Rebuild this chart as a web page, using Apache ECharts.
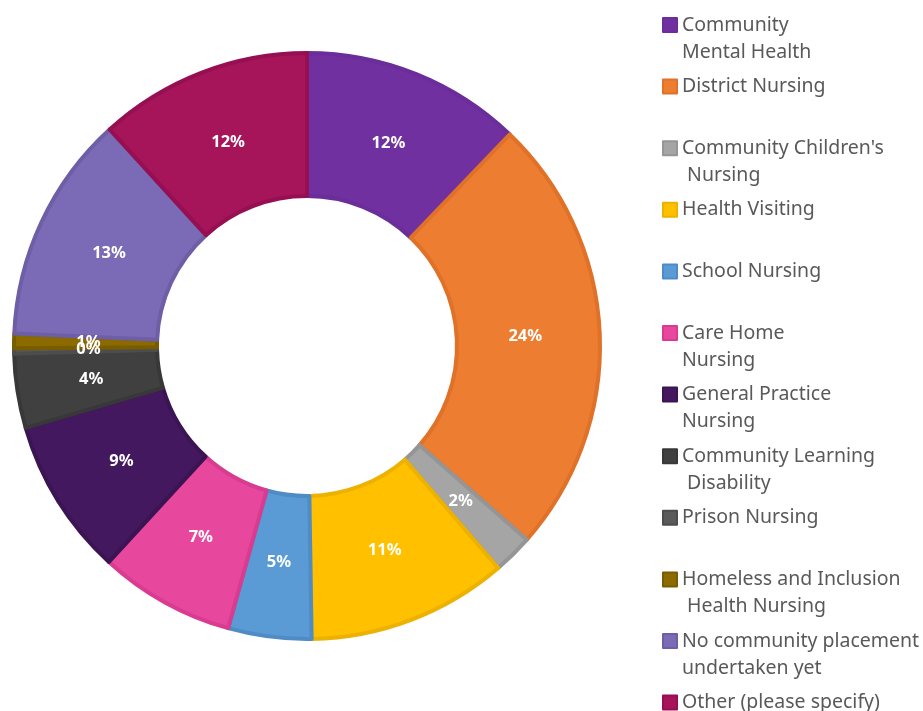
<!DOCTYPE html>
<html>
<head>
<meta charset="utf-8">
<script src="https://cdn.jsdelivr.net/npm/echarts@6/dist/echarts.min.js"></script>
<style>
  html, body { margin: 0; padding: 0; background: #fff; }
  #chart { width: 923px; height: 711px; }
</style>
</head>
<body>
<div id="chart"></div>
<script>
// categories and values (share of students, %)
const categories = [
  'Community Mental Health',
  'District Nursing',
  "Community Children's Nursing",
  'Health Visiting',
  'School Nursing',
  'Care Home Nursing',
  'General Practice Nursing',
  'Community Learning Disability',
  'Prison Nursing',
  'Homeless and Inclusion Health Nursing',
  'No community placement undertaken yet',
  'Other (please specify)',
];
const values = [12.2, 24.4, 2.2, 11.1, 4.6, 7.5, 8.7, 4.1, 0.3, 0.8, 12.6, 11.8];
// legend text as wrapped in the original
const legendLabels = [
  'Community\nMental Health',
  'District Nursing',
  "Community Children's\n Nursing",
  'Health Visiting',
  'School Nursing',
  'Care Home\nNursing',
  'General Practice\nNursing',
  'Community Learning\n Disability',
  'Prison Nursing',
  'Homeless and Inclusion\n Health Nursing',
  'No community placement\nundertaken yet',
  'Other (please specify)',
];

const fills = ['#7030A0', '#ED7D31', '#A5A5A5', '#FFC000', '#5B9BD5', '#E8479E',
  '#44185E', '#404040', '#5A5A5A', '#8B6A00', '#7B6AB5', '#A6145A'];
const borders = ['#6A2D99', '#E07128', '#959595', '#EDB100', '#4F8CC5', '#D83B8F',
  '#3B1452', '#383838', '#4D4D4D', '#7A5C00', '#6E5EA6', '#960F52'];

const chart = echarts.init(document.getElementById('chart'));

const lineH = 27;
// one legend per item so every icon sits on its first text line
const legends = categories.map((name, i) => {
  const lines = legendLabels[i].split('\n').length;
  const iconCenter = 25 + i * 61.6;
  // two-line labels get an empty line in front so the centred block puts line 1 on the icon
  const text = lines > 1 ? ' \n' + legendLabels[i] : legendLabels[i];
  const offset = lines > 1 ? 13.5 + lineH * (lines - 1) : 13.5;
  return {
    data: [name],
    orient: 'vertical',
    left: 662,
    top: iconCenter - offset,
    padding: 0,
    itemWidth: 14,
    itemHeight: 14,
    itemGap: 0,
    icon: 'rect',
    selectedMode: false,
    formatter: () => text,
    textStyle: {
      color: '#595959',
      fontFamily: 'Noto Sans',
      fontSize: 19.5,
      lineHeight: lineH,
      backgroundColor: 'transparent',
    },
  };
});

const pieData = categories.map((name, i) => ({
  name,
  value: values[i],
  itemStyle: {
    color: fills[i],
    borderColor: borders[i],
    borderWidth: 4,
  },
}));

const option = {
  animation: false,
  legend: legends,
  series: [
    {
      type: 'pie',
      center: [307, 346],
      radius: [150, 293],
      startAngle: 90,
      clockwise: true,
      avoidLabelOverlap: false,
      data: pieData,
      label: { show: false },
      labelLine: { show: false },
      emphasis: { disabled: true },
    },
    // same data again, invisible, only to put the percentage labels a bit nearer the hole
    {
      type: 'pie',
      center: [307, 346],
      radius: [150, 281],
      startAngle: 90,
      clockwise: true,
      silent: true,
      avoidLabelOverlap: false,
      labelLayout: { hideOverlap: false },
      itemStyle: { color: 'transparent', borderWidth: 0 },
      data: categories.map((name, i) => ({ name, value: values[i] })),
      label: {
        show: true,
        position: 'inside',
        color: '#fff',
        fontFamily: 'Noto Sans',
        fontWeight: 'bold',
        fontSize: 16.5,
        formatter: (p) => Math.round(p.percent) + '%',
      },
      labelLine: { show: false },
      emphasis: { disabled: true },
    },
  ],
};

chart.setOption(option);
</script>
</body>
</html>
